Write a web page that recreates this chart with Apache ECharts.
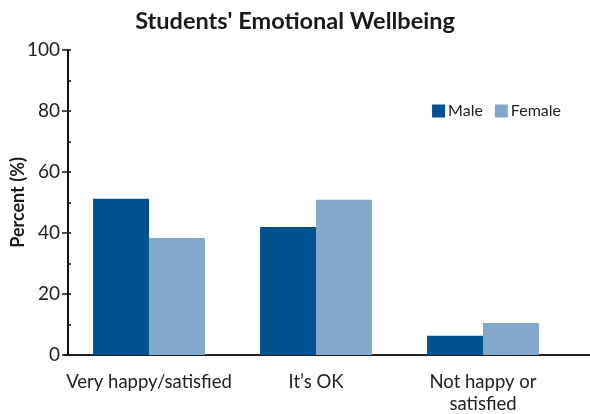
<!DOCTYPE html>
<html lang="en">
<head>
<meta charset="UTF-8">
<title>Students' Emotional Wellbeing</title>
<style>
  html, body { margin: 0; padding: 0; background: #fff; }
  #chart { width: 590px; height: 414px; }
</style>
</head>
<body>
<div id="chart"></div>
<script src="https://cdn.jsdelivr.net/npm/echarts@6/dist/echarts.min.js"></script>
<script>
  var categories = ['Very happy/satisfied', 'It\u2019s OK', 'Not happy or\nsatisfied'];
  var maleValues = [51.2, 42.0, 6.3];
  var femaleValues = [38.4, 50.9, 10.5];
  var yTicks = [0, 20, 40, 60, 80, 100];

  var font = 'Lato, "Open Sans", sans-serif';
  var chart = echarts.init(document.getElementById('chart'));
  var option = {
    animation: false,
    color: ['#02528f', '#82a9ca'],
    textStyle: { fontFamily: font },
    title: {
      text: 'Students\' Emotional Wellbeing',
      left: 'center',
      top: 4,
      textStyle: { fontSize: 23.5, fontWeight: 'bold', color: '#1a1a1a', fontFamily: font }
    },
    legend: {
      data: ['Male', 'Female'],
      right: 24,
      top: 98,
      itemWidth: 13,
      itemHeight: 13,
      itemGap: 12,
      icon: 'rect',
      textStyle: { fontSize: 16, color: '#222', padding: [0, 0, 0, -2] }
    },
    grid: {
      left: 65.5,
      right: 23.5,
      top: 50,
      bottom: 59,
      outerBoundsMode: 'none'
    },
    xAxis: {
      type: 'category',
      data: categories,
      axisLine: { lineStyle: { color: '#222', width: 2 } },
      axisTick: { show: false },
      axisLabel: { interval: 0, fontSize: 18.5, color: '#222', margin: 16, lineHeight: 22 }
    },
    yAxis: [
      {
        type: 'value',
        min: yTicks[0],
        max: yTicks[yTicks.length - 1],
        interval: 20,
        offset: -2.5,
        name: 'Percent (%)',
        nameLocation: 'middle',
        nameGap: 41,
        nameMoveOverlap: false,
        nameTextStyle: { fontSize: 18, fontWeight: 'bold', color: '#1a1a1a' },
        axisLine: { show: true, lineStyle: { color: '#111', width: 2 } },
        axisTick: { show: true, length: 6, lineStyle: { color: '#111', width: 1.5 } },
        axisLabel: { fontSize: 19, color: '#222', margin: 8 },
        splitLine: { show: false }
      },
      {
        type: 'value',
        min: 0,
        max: 100,
        interval: 10,
        position: 'left',
        offset: -2.5,
        axisLine: { show: false },
        axisTick: { show: true, inside: true, length: 3, lineStyle: { color: '#111', width: 1.5 } },
        axisLabel: { show: false },
        splitLine: { show: false }
      }
    ],
    graphic: [],
    series: [
      {
        name: 'Male',
        type: 'bar',
        data: maleValues,
        barGap: '0%',
        barCategoryGap: '33%'
      },
      {
        name: 'Female',
        type: 'bar',
        data: femaleValues
      }
    ]
  };
  chart.setOption(option);

  // extend the baseline to the right edge like the original
  var y0 = chart.convertToPixel({ yAxisIndex: 0 }, 0);
  var xr = 590 - 23.5;
  chart.setOption({
    graphic: [{
      type: 'line',
      shape: { x1: xr, y1: y0, x2: 590, y2: y0 },
      style: { stroke: '#222', lineWidth: 2 }
    }]
  });
</script>
</body>
</html>
